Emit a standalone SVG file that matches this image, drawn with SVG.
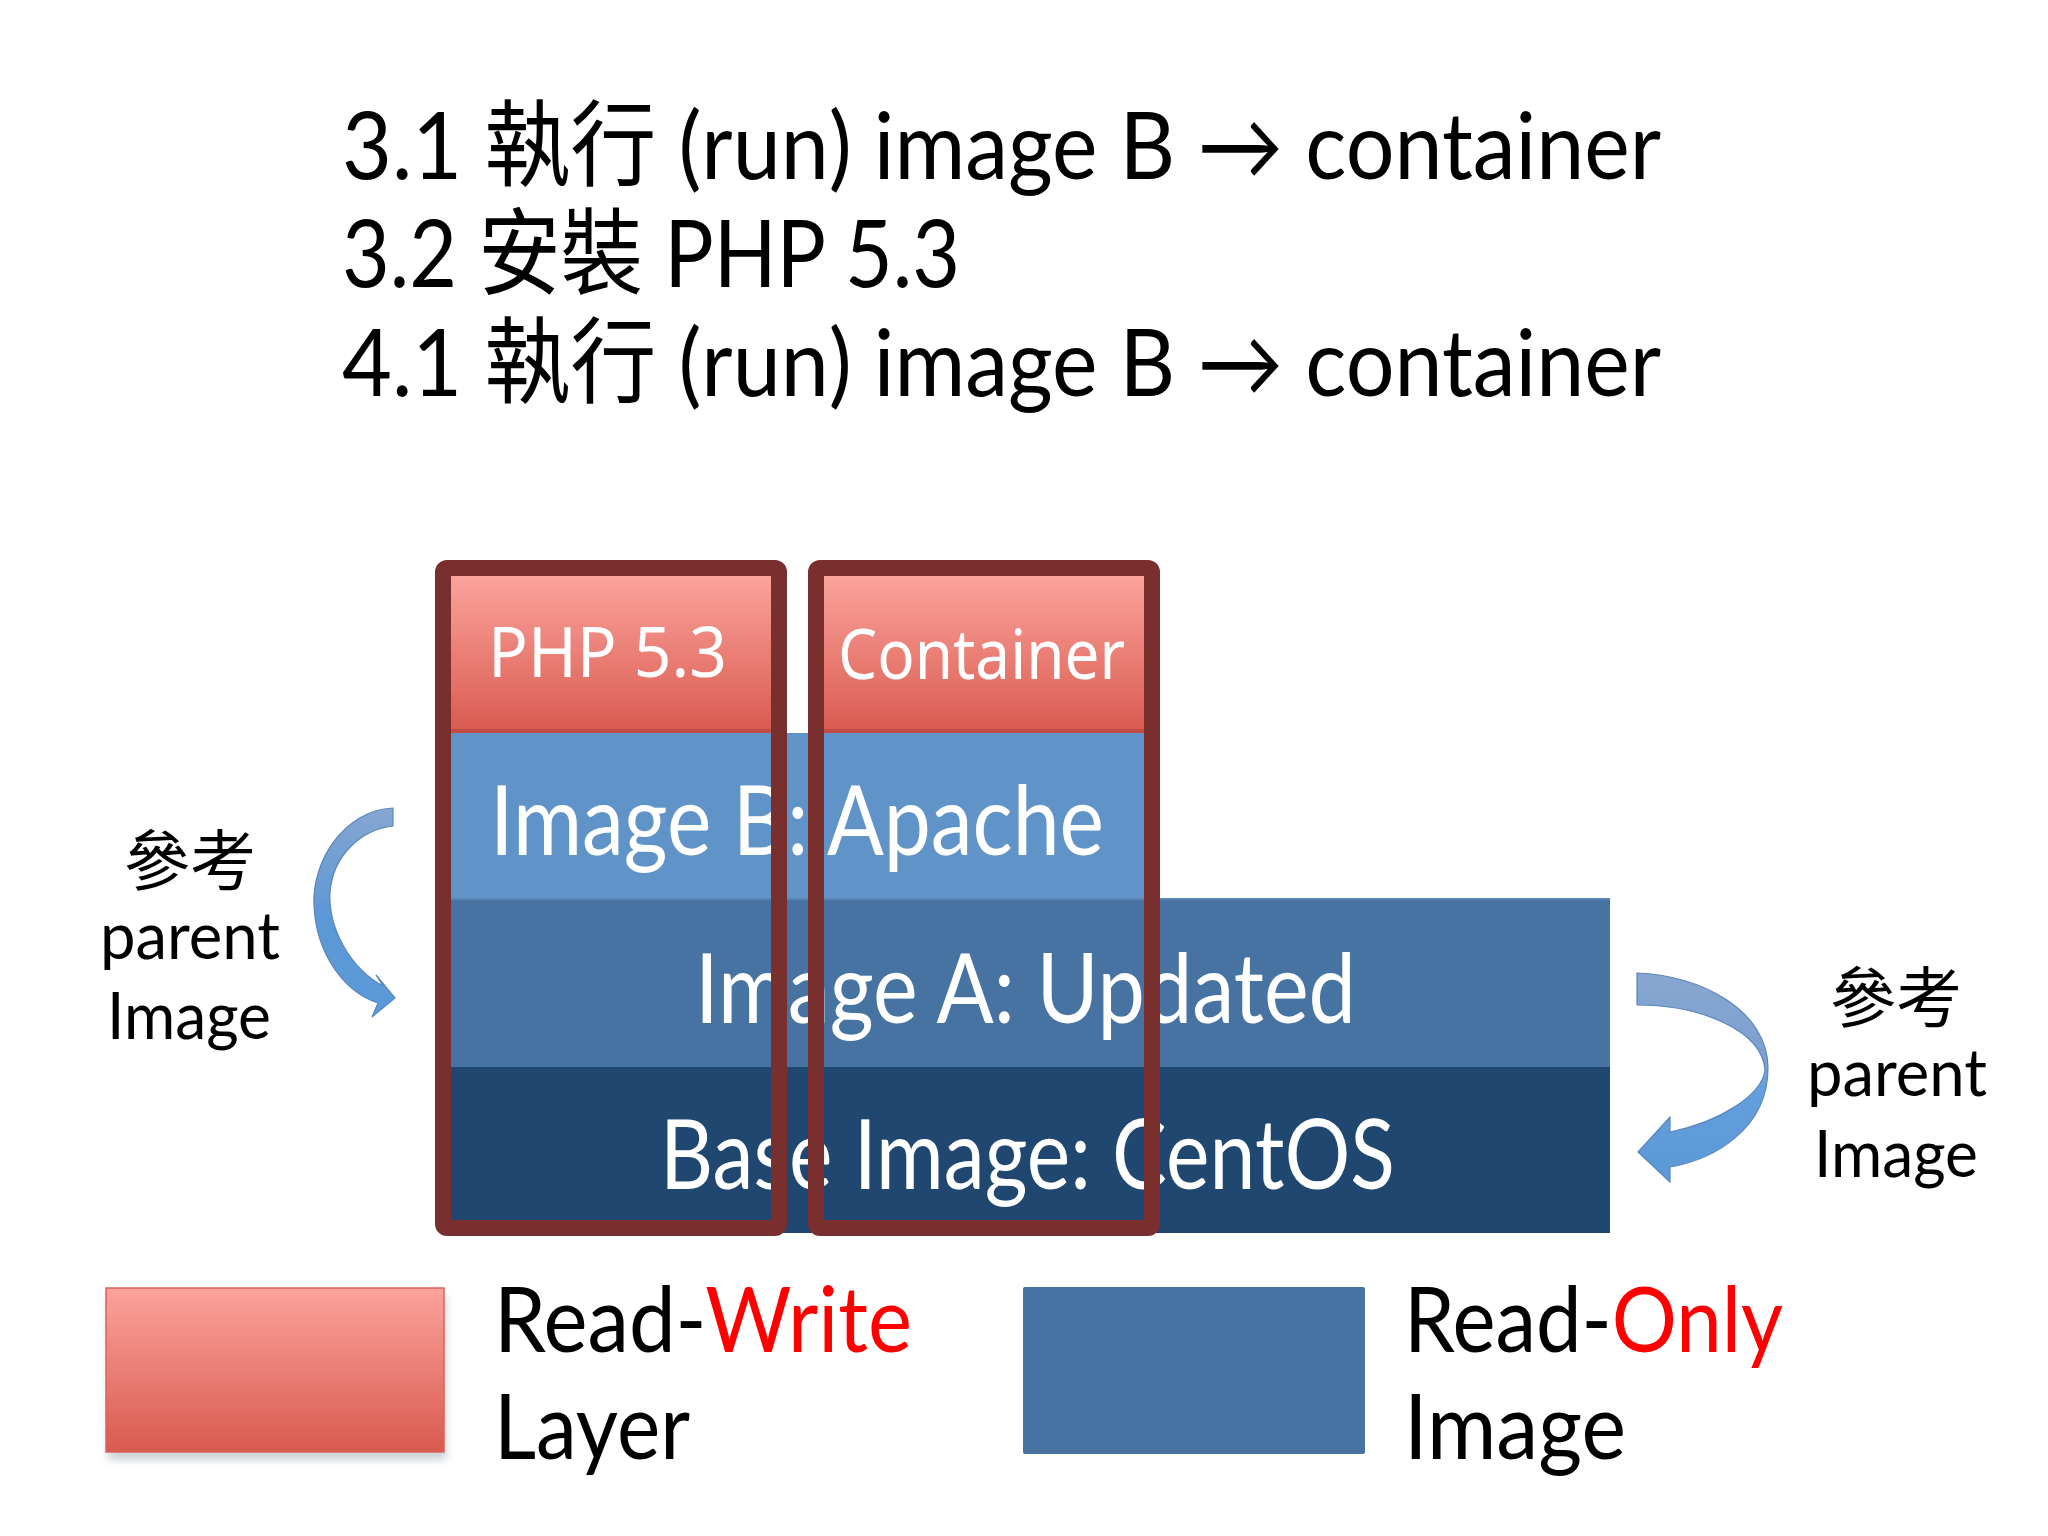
<svg xmlns="http://www.w3.org/2000/svg" width="2048" height="1536" viewBox="0 0 2048 1536">
<defs>
<linearGradient id="red" x1="0" y1="0" x2="0" y2="1">
<stop offset="0" stop-color="#fba39c"/>
<stop offset="1" stop-color="#d95a4f"/>
</linearGradient>
<linearGradient id="arrL" x1="0" y1="0" x2="0" y2="1">
<stop offset="0" stop-color="#86a6d0"/>
<stop offset="0.5" stop-color="#5e98d6"/>
<stop offset="1" stop-color="#5a9ad8"/>
</linearGradient>
<linearGradient id="arrR" x1="0" y1="0" x2="0" y2="1">
<stop offset="0" stop-color="#87a6d0"/>
<stop offset="0.45" stop-color="#7d9fd0"/>
<stop offset="0.55" stop-color="#64a0dc"/>
<stop offset="1" stop-color="#5a98d6"/>
</linearGradient>
<filter id="shadow" x="-10%" y="-10%" width="120%" height="130%">
<feGaussianBlur stdDeviation="4"/>
</filter>
</defs>
<style>
.title{font-family:Lato,"Noto Sans CJK TC",sans-serif;font-size:94px;fill:#000}
.lbl{font-family:Lato,"Noto Sans",sans-serif;font-size:97px;fill:#fff}
.rw{font-family:"Noto Sans",Lato,sans-serif;font-size:70px;fill:#fff}
.side{font-family:Lato,"Noto Sans CJK TC",sans-serif;font-size:66px;fill:#000;text-anchor:middle}
.leg{font-family:Lato,sans-serif;font-size:91px;fill:#000}
.red{fill:#ff0000}
.outline{fill:none;stroke:#7a2f2f;stroke-width:16;stroke-linejoin:round}
.arrow{stroke:#5a86bd;stroke-width:1.2}
</style>
<rect width="2048" height="1536" fill="#ffffff"/>
<g id="title">
<text class="title" x="342" y="179" textLength="1319" lengthAdjust="spacingAndGlyphs">3.1 執行 (run) image B → container</text>
<text class="title" x="342" y="287" textLength="618" lengthAdjust="spacingAndGlyphs">3.2 安裝 PHP 5.3</text>
<text class="title" x="342" y="396" textLength="1319" lengthAdjust="spacingAndGlyphs">4.1 執行 (run) image B → container</text>
</g>
<g id="layer-base">
<rect x="440" y="1067" width="1170" height="166" fill="#1f4770"/>
<text class="lbl" x="660" y="1189" textLength="735" lengthAdjust="spacingAndGlyphs">Base Image: CentOS</text>
</g>
<g id="layer-image-a">
<rect x="440" y="898" width="1170" height="169" fill="#4673a2"/>
<rect x="440" y="898" width="1170" height="2" fill="#5a86b4"/>
<text class="lbl" x="695" y="1023" textLength="661" lengthAdjust="spacingAndGlyphs">Image A: Updated</text>
</g>
<g id="layer-image-b">
<rect x="440" y="733" width="704" height="165" fill="#6094c8"/>
<text class="lbl" x="490" y="855" textLength="614" lengthAdjust="spacingAndGlyphs">Image B: Apache</text>
</g>
<g id="layer-php">
<rect x="450" y="576" width="321" height="157" fill="url(#red)"/>
<rect x="450" y="729" width="321" height="4" fill="#c24c44"/>
<text class="rw" x="488" y="677" textLength="239" lengthAdjust="spacingAndGlyphs">PHP 5.3</text>
</g>
<g id="layer-container">
<rect x="824" y="576" width="320" height="157" fill="url(#red)"/>
<rect x="824" y="729" width="320" height="4" fill="#c24c44"/>
<text class="rw" x="838" y="679" textLength="287" lengthAdjust="spacingAndGlyphs">Container</text>
</g>
<g id="outline-left">
<rect class="outline" x="443" y="568" width="336" height="660" rx="4"/>
</g>
<g id="outline-right">
<rect class="outline" x="816" y="568" width="336" height="660" rx="4"/>
</g>
<g id="connectors">
<path class="arrow" fill="url(#arrL)" d="M393 808 C345 810 312 860 314 905 C316 955 345 992 378 1003 L372 1017 L395 998 L376 975 L383 986 C350 968 328 928 330 892 C333 856 360 830 393 826 Z"/>
<path class="arrow" fill="url(#arrR)" d="M1637 973 C1700 975 1768 1010 1768 1068 C1768 1130 1712 1160 1670 1167 L1670 1182 L1638 1152 L1670 1117 L1670 1132 C1720 1122 1762 1095 1765 1070 C1762 1030 1700 1005 1637 1005 Z"/>
</g>
<g id="label-left">
<text class="side" x="190" y="885">參考</text>
<text class="side" x="190" y="959" textLength="180" lengthAdjust="spacingAndGlyphs">parent</text>
<text class="side" x="189" y="1039" textLength="164" lengthAdjust="spacingAndGlyphs">Image</text>
</g>
<g id="label-right">
<text class="side" x="1896" y="1022">參考</text>
<text class="side" x="1897" y="1096" textLength="180" lengthAdjust="spacingAndGlyphs">parent</text>
<text class="side" x="1896" y="1177" textLength="164" lengthAdjust="spacingAndGlyphs">Image</text>
</g>
<g id="legend-rw">
<rect x="108" y="1296" width="338" height="164" fill="#9aa6b0" opacity="0.5" filter="url(#shadow)"/>
<rect x="106" y="1288" width="338" height="164" fill="url(#red)" stroke="#d9645a" stroke-width="1.5"/>
<text class="leg" x="494" y="1352" textLength="418" lengthAdjust="spacingAndGlyphs">Read-<tspan class="red">Write</tspan></text>
<text class="leg" x="494" y="1459" textLength="196" lengthAdjust="spacingAndGlyphs">Layer</text>
</g>
<g id="legend-ro">
<rect x="1023" y="1287" width="342" height="167" fill="#4673a2" rx="2"/>
<text class="leg" x="1404" y="1352" textLength="379" lengthAdjust="spacingAndGlyphs">Read-<tspan class="red">Only</tspan></text>
<text class="leg" x="1404" y="1459" textLength="222" lengthAdjust="spacingAndGlyphs">Image</text>
</g>
</svg>
